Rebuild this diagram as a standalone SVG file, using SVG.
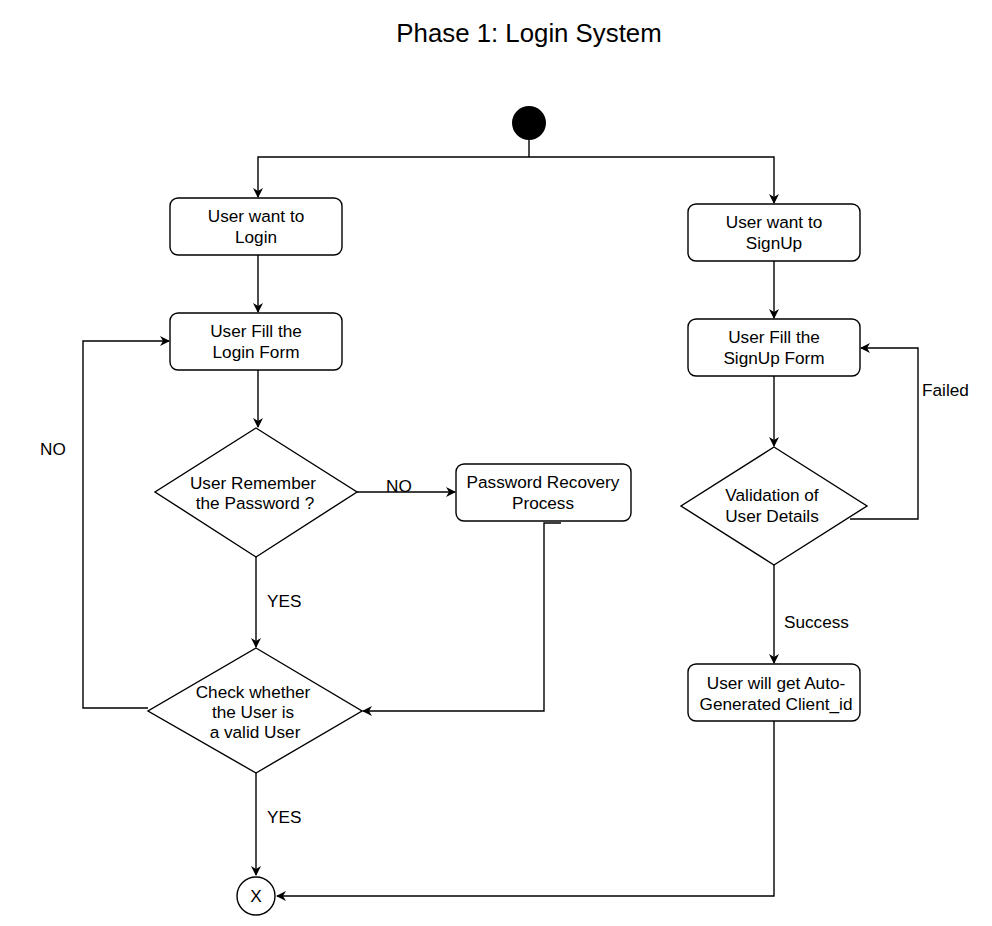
<svg xmlns="http://www.w3.org/2000/svg" width="992" height="926" viewBox="0 0 992 926">
<style>
.n{fill:#fff;stroke:#000;stroke-width:1.4}
.t{font-family:"Liberation Sans",Arial,sans-serif;font-size:17.2px;fill:#000;text-anchor:middle}
.l{font-family:"Liberation Sans",Arial,sans-serif;font-size:17.2px;fill:#000}
.c{fill:none;stroke:#000;stroke-width:1.4}
</style>
<defs>
<marker id="a" viewBox="0 0 10 10" refX="9" refY="5" markerWidth="10" markerHeight="10" markerUnits="userSpaceOnUse" orient="auto">
<path d="M0,0 L10,5 L0,10 L3,5 Z" fill="#000"/>
</marker>
</defs>
<rect width="992" height="926" fill="#fff"/>
<text x="529" y="42" class="t" style="font-size:25.8px">Phase 1: Login System</text>
<g id="connectors">
<path class="c" d="M529,140 V157"/>
<path class="c" d="M529,157 H258 V197" marker-end="url(#a)"/>
<path class="c" d="M529,157 H774 V203" marker-end="url(#a)"/>
<path class="c" d="M258,255 V312" marker-end="url(#a)"/>
<path class="c" d="M258,370 V427" marker-end="url(#a)"/>
<path class="c" d="M357,492 H455" marker-end="url(#a)"/>
<path class="c" d="M256,557 V647" marker-end="url(#a)"/>
<path class="c" d="M561,523 H544 V711 H363" marker-end="url(#a)"/>
<path class="c" d="M148,708 H83 V341 H169" marker-end="url(#a)"/>
<path class="c" d="M256,773 V875" marker-end="url(#a)"/>
<path class="c" d="M774,261 V318" marker-end="url(#a)"/>
<path class="c" d="M774,376 V446" marker-end="url(#a)"/>
<path class="c" d="M850,519 H918 V348 H861" marker-end="url(#a)"/>
<path class="c" d="M774,565 V663" marker-end="url(#a)"/>
<path class="c" d="M774,721 V896 H277" marker-end="url(#a)"/>
<text x="386" y="492" class="l">NO</text>
<text x="267" y="607" class="l">YES</text>
<text x="40" y="455" class="l">NO</text>
<text x="267" y="823" class="l">YES</text>
<text x="922" y="396" class="l">Failed</text>
<text x="784" y="628" class="l">Success</text>
</g>
<g id="start"><circle cx="529" cy="123" r="17" fill="#000"/></g>
<g id="loginWant"><rect class="n" x="170" y="198" width="172" height="57" rx="8"/><text class="t" x="256" y="222">User want to</text><text class="t" x="256" y="243">Login</text></g>
<g id="loginFill"><rect class="n" x="170" y="313" width="172" height="57" rx="8"/><text class="t" x="256" y="337">User Fill the</text><text class="t" x="256" y="358">Login Form</text></g>
<g id="remember"><polygon class="n" points="256,428 357,492 256,557 155,492"/><text class="t" x="253" y="489">User Remember</text><text class="t" x="255" y="509">the Password ?</text></g>
<g id="recovery"><rect class="n" x="456" y="464" width="175" height="57" rx="8"/><text class="t" x="543" y="488">Password Recovery</text><text class="t" x="543" y="509">Process</text></g>
<g id="check"><polygon class="n" points="256,648 362,711 256,773 148,711"/><text class="t" x="253" y="698">Check whether</text><text class="t" x="253" y="718">the User is</text><text class="t" x="255" y="738">a valid User</text></g>
<g id="end"><circle class="n" cx="256" cy="896" r="19"/><text class="t" x="256" y="902">X</text></g>
<g id="signupWant"><rect class="n" x="688" y="204" width="172" height="57" rx="8"/><text class="t" x="774" y="228">User want to</text><text class="t" x="774" y="249">SignUp</text></g>
<g id="signupFill"><rect class="n" x="688" y="319" width="172" height="57" rx="8"/><text class="t" x="774" y="343">User Fill the</text><text class="t" x="774" y="364">SignUp Form</text></g>
<g id="validate"><polygon class="n" points="774,447 867,506 774,565 681,506"/><text class="t" x="772" y="501">Validation of</text><text class="t" x="772" y="522">User Details</text></g>
<g id="clientId"><rect class="n" x="688" y="664" width="172" height="57" rx="8"/><text class="t" x="776" y="689">User will get Auto-</text><text class="t" x="776" y="710">Generated Client_id</text></g>
</svg>
